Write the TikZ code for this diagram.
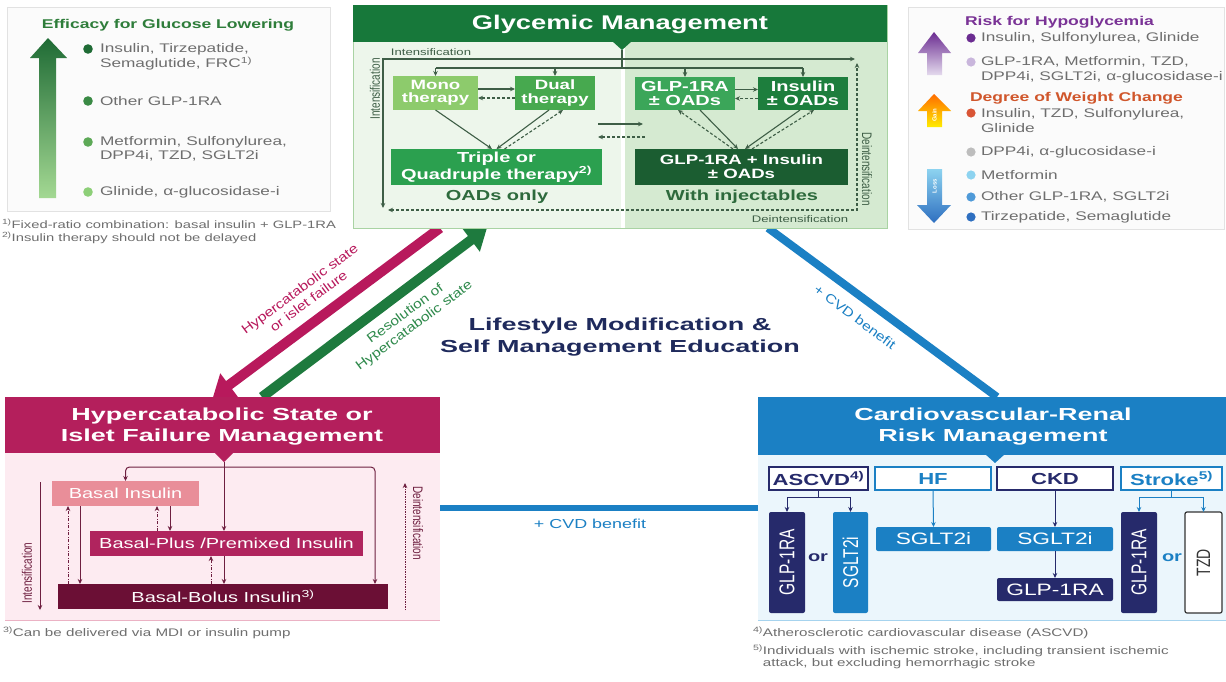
\documentclass[tikz,border=0pt]{standalone}
\usepackage{fontspec}
\usepackage{graphicx}
\setmainfont{Liberation Sans}[FakeStretch=1.38]
\newfontfamily\nf{Liberation Sans}
\newfontfamily\df{Liberation Sans}[FakeStretch=1.2]
\newfontfamily\hf{Liberation Sans}[FakeStretch=1.55]
\usetikzlibrary{arrows.meta,calc}
\newcommand\fsz[2]{\fontsize{#1}{#2}\selectfont}
\newcommand\vt[1]{\scalebox{1}[1.38]{#1}}

\definecolor{gmhead}{HTML}{17783A}
\definecolor{gmleft}{HTML}{EDF6EB}
\definecolor{gmright}{HTML}{D5EAD1}
\definecolor{gmedge}{HTML}{A9D3A3}
\definecolor{cmono}{HTML}{8DCB6C}
\definecolor{cdual}{HTML}{47A94F}
\definecolor{ctriple}{HTML}{2BA04F}
\definecolor{cglp}{HTML}{3BA659}
\definecolor{cins}{HTML}{1D7E3D}
\definecolor{ccombo}{HTML}{1B5D31}
\definecolor{gline}{HTML}{3E5E46}
\definecolor{gtext}{HTML}{2D6A3C}
\definecolor{hyhead}{HTML}{B41F5C}
\definecolor{hybody}{HTML}{FDEBF1}
\definecolor{hyedge}{HTML}{EBB2C4}
\definecolor{cbasal}{HTML}{E98E99}
\definecolor{cplus}{HTML}{B0245E}
\definecolor{cbolus}{HTML}{6B0F35}
\definecolor{hline}{HTML}{6E1F40}
\definecolor{cvhead}{HTML}{1B80C4}
\definecolor{cvbody}{HTML}{EBF6FC}
\definecolor{cvedge}{HTML}{A6D3EE}
\definecolor{navy}{HTML}{262A6B}
\definecolor{lifenavy}{HTML}{1F2A5C}
\definecolor{greytext}{HTML}{6E6E6E}
\definecolor{legedge}{HTML}{E2E2E2}
\definecolor{legfill}{HTML}{FBFBFB}
\definecolor{crim}{HTML}{B8195C}
\definecolor{dgreen}{HTML}{1E7A3E}
\definecolor{lgreen}{HTML}{2F8A4C}
\definecolor{efftitle}{HTML}{2E7D3A}
\definecolor{eff1}{HTML}{1F6B35}
\definecolor{eff2}{HTML}{3A8A45}
\definecolor{eff3}{HTML}{5DA957}
\definecolor{eff4}{HTML}{8DCF78}
\definecolor{hypo}{HTML}{7A3396}
\definecolor{hypo1}{HTML}{6B2C91}
\definecolor{hypo2}{HTML}{C9B6DC}
\definecolor{wtitle}{HTML}{D0562B}
\definecolor{w1}{HTML}{D95535}
\definecolor{w2}{HTML}{BDBDBD}
\definecolor{w3}{HTML}{8DD3F0}
\definecolor{w4}{HTML}{4F9AD8}
\definecolor{w5}{HTML}{2E6FC0}
\definecolor{tzdedge}{HTML}{333333}

\begin{document}
\begin{tikzpicture}[x=1pt,y=-1pt,>={Stealth[length=5pt,width=4.5pt]},
  every node/.style={inner sep=0pt,outer sep=0pt},
  fbox/.style={rectangle,align=center,text=white},
  glink/.style={draw=gline,line width=1.1pt},
  glinkd/.style={glink,dash pattern=on 3pt off 2pt},
  hlink/.style={draw=hline,line width=1pt},
  hlinkdd/.style={hlink,dash pattern=on 3pt off 1.5pt on 1pt off 1.5pt},
  hlinkdot/.style={hlink,dash pattern=on 1.2pt off 1.3pt},
  cat/.style={draw,fill=white,line width=1.1pt,minimum height=23pt,font=\bfseries\fsz{16}{18}},
  med/.style={rectangle,rounded corners=2pt,text=white,font=\fsz{16.5}{18}},
  vmed/.style={med,rotate=90,minimum width=101pt,font=\nf\fsz{15.5}{17}},
  legtxt/.style={anchor=west,align=left,text=greytext,font=\fsz{12.5}{14.5}},
  smalllbl/.style={font=\fsz{9.5}{10},text=gline},
  vlbl/.style={font=\nf\fsz{10}{11}},
]
\fill[white] (0,0) rectangle (1226,681);
\useasboundingbox (0,0) rectangle (1226,681);

% ---------- links between the three management panels ----------
\coordinate (gmA) at (440,228);  \coordinate (hyA) at (213,397);
\coordinate (hyB) at (262,397);  \coordinate (gmB) at (487,228);
\coordinate (gmC) at (768,228);  \coordinate (cvA) at (997,397);
\coordinate (hyC) at (440,508);  \coordinate (cvB) at (758,508);
\draw[line width=8pt,cvhead] (gmC) -- (cvA);
\draw[line width=6pt,cvhead] (hyC) -- (cvB);
\draw[line width=10pt,crim,-{Triangle[length=20pt,width=28pt]}] (gmA) -- (hyA);
\draw[line width=10pt,dgreen,-{Triangle[length=20pt,width=28pt]}] (hyB) -- (gmB);

\node[rotate=36.6,align=center,text=crim,font=\df\fsz{13}{15}] (lblHyp) at (304,295) {Hypercatabolic state\\or islet failure};
\node[rotate=36.6,align=center,text=lgreen,font=\df\fsz{13}{15}] (lblRes) at (410,320) {Resolution of\\Hypercatabolic state};
\node[rotate=-36.4,text=cvhead,font=\df\fsz{13}{15}] (lblCvdA) at (855,317) {+ CVD benefit};
\node[text=cvhead,font=\fsz{13}{15}] (lblCvdB) at (590,524) {+ CVD benefit};
\node[align=center,text=lifenavy,font=\hf\bfseries\fsz{17.4}{22}] (life) at (620,337) {Lifestyle Modification \&\\Self Management Education};

% ---------- efficacy legend ----------
\draw[legedge,fill=legfill] (7,7) rectangle (330,211);
\shade[top color=eff1,bottom color=eff4!80!white] (39,198) -- (39,58) -- (30,58) -- (48,38) -- (67,58) -- (56,58) -- (56,198) -- cycle;
\node[text=efftitle,font=\bfseries\fsz{12.7}{14}] (effT) at (168,25) {Efficacy for Glucose Lowering};
\fill[eff1] (88,49) circle (4.8);
\fill[eff2] (88,101) circle (4.8);
\fill[eff3] (88,142) circle (4.8);
\fill[eff4] (88,192) circle (4.8);
\node[legtxt] (eff1t) at (100,57) {Insulin, Tirzepatide,\\Semaglutide, FRC\textsuperscript{1)}};
\node[legtxt] (eff2t) at (100,101) {Other GLP-1RA};
\node[legtxt] (eff3t) at (100,149) {Metformin, Sulfonylurea,\\DPP4i, TZD, SGLT2i};
\node[legtxt] (eff4t) at (100,192) {Glinide, α-glucosidase-i};
\node[anchor=west,align=left,text=greytext,font=\fsz{10.7}{13}] (fn12) at (2,231) {\textsuperscript{1)}Fixed-ratio combination: basal insulin + GLP-1RA\\\textsuperscript{2)}Insulin therapy should not be delayed};

% ---------- hypoglycaemia / weight legend ----------
\draw[legedge,fill=legfill] (908,7) rectangle (1224,229);
\shade[top color=hypo1,bottom color=hypo2!50!white] (927,75) -- (927,53) -- (918,53) -- (934,32) -- (951,53) -- (942,53) -- (942,75) -- cycle;
\shade[top color=orange!85!red,bottom color=yellow!85!orange] (927,127) -- (927,111) -- (918,111) -- (934,94) -- (951,111) -- (942,111) -- (942,127) -- cycle;
\shade[top color=w3,bottom color=w5] (927,169) -- (927,205) -- (917,205) -- (934,223) -- (951,205) -- (942,205) -- (942,169) -- cycle;
\node[rotate=90,text=white,font=\nf\bfseries\fsz{6}{7}] (gain) at (934.5,115) {Gain};
\node[rotate=90,text=white,font=\nf\bfseries\fsz{6}{7}] (loss) at (934.5,186) {Loss};
\node[anchor=west,text=hypo,font=\bfseries\fsz{12.7}{14}] (hypoT) at (965,22) {Risk for Hypoglycemia};
\node[anchor=west,text=wtitle,font=\bfseries\fsz{12.7}{14}] (wT) at (970,98) {Degree of Weight Change};
\fill[hypo1] (971,38) circle (4.6);
\fill[hypo2] (971,62) circle (4.6);
\fill[w1] (971,113) circle (4.6);
\fill[w2] (971,152) circle (4.6);
\fill[w3] (971,175) circle (4.6);
\fill[w4] (971,197) circle (4.6);
\fill[w5] (971,217) circle (4.6);
\node[legtxt] (h1t) at (981,38) {Insulin, Sulfonylurea, Glinide};
\node[legtxt] (h2t) at (981,70) {GLP-1RA, Metformin, TZD,\\DPP4i, SGLT2i, α-glucosidase-i};
\node[legtxt] (w1t) at (981,120.5) {Insulin, TZD, Sulfonylurea,\\Glinide};
\node[legtxt] (w2t) at (981,152) {DPP4i, α-glucosidase-i};
\node[legtxt] (w3t) at (981,175) {Metformin};
\node[legtxt] (w4t) at (981,197) {Other GLP-1RA, SGLT2i};
\node[legtxt] (w5t) at (981,217) {Tirzepatide, Semaglutide};

% ---------- glycemic management ----------
\fill[gmleft] (353,42) rectangle (621,228);
\fill[gmright] (625,42) rectangle (887,228);
\draw[gmedge,line width=0.8pt] (353,5) rectangle (887,228);
\fill[gmhead] (353,5) rectangle (887,42);
\fill[gmhead] (612,41) -- (632,41) -- (622,50) -- cycle;
\node[text=white,font=\bfseries\fsz{19.8}{22}] (gmT) at (620,24) {Glycemic Management};

\node[fbox,fill=cmono,minimum width=85pt,minimum height=34pt,font=\bfseries\fsz{13.5}{13.5}] (mono) at (435.5,93) {Mono\\therapy};
\node[fbox,fill=cdual,minimum width=80pt,minimum height=34pt,font=\bfseries\fsz{13.5}{13.5}] (dual) at (555,93) {Dual\\therapy};
\node[fbox,fill=ctriple,minimum width=211pt,minimum height=36pt,font=\bfseries\fsz{14.5}{14.5}] (triple) at (496.5,167) {Triple or\\Quadruple therapy\textsuperscript{2)}};
\node[fbox,fill=cglp,minimum width=100pt,minimum height=33pt,font=\bfseries\fsz{14.5}{13.5}] (glp) at (685,93.5) {GLP-1RA\\± OADs};
\node[fbox,fill=cins,minimum width=90pt,minimum height=33pt,font=\bfseries\fsz{14.5}{13.5}] (ins) at (803,93.5) {Insulin\\± OADs};
\node[fbox,fill=ccombo,minimum width=213pt,minimum height=36pt,font=\bfseries\fsz{13.5}{14}] (combo) at (741.5,167) {GLP-1RA + Insulin\\± OADs};
\node[text=gtext,font=\bfseries\fsz{14.5}{16}] (oads) at (497,197) {OADs only};
\node[text=gtext,font=\bfseries\fsz{14.5}{16}] (inj) at (742,197) {With injectables};

\coordinate (gmTip) at (622,50);
\coordinate (gBar) at (622,68);
\draw[glink] (gmTip) -- (gBar);
\draw[glink] (mono.north |- gBar) -- (ins.north |- gBar);
\foreach \b in {mono,dual,glp,ins} \draw[glink,->] (\b.north |- gBar) -- (\b.north);

\coordinate (loopBL) at (383,208); \coordinate (loopTL) at (383,59); \coordinate (loopTR) at (855,59);
\coordinate (dBL) at (388,210); \coordinate (dBR) at (857,210); \coordinate (dTR) at (857,63);
\draw[glink,<->] (loopBL) -- (loopTL) -- (loopTR);
\draw[glinkd,<->] (dBL) -- (dBR) -- (dTR);

\draw[glink,->] ([yshift=4pt]mono.east) -- ([yshift=4pt]dual.west);
\draw[glinkd,->] ([yshift=-5pt]dual.west) -- ([yshift=-5pt]mono.east);
\draw[glink,->] (mono.south) -- ([xshift=-4.5pt]triple.north);
\draw[glink,->] ([xshift=-6pt]dual.south) -- (triple.north);
\draw[glinkd,->] ([xshift=8pt]triple.north) -- ([xshift=8pt]dual.south);

\coordinate (oadOutS) at (598,124); \coordinate (injInS) at (643,124);
\coordinate (injOutD) at (645,137); \coordinate (oadInD) at (598,137);
\draw[glink,->] (oadOutS) -- (injInS);
\draw[glinkd,->] (injOutD) -- (oadInD);

\draw[glink,->] ([yshift=4pt]glp.east) -- ([yshift=4pt]ins.west);
\draw[glinkd,->] ([yshift=-5pt]ins.west) -- ([yshift=-5pt]glp.east);
\draw[glink,->] ([xshift=15pt]glp.south) -- ([xshift=-3.5pt]combo.north);
\draw[glinkd,->] ([xshift=-8.5pt]combo.north) -- ([xshift=-7pt]glp.south);
\draw[glink,->] ([xshift=-3pt]ins.south) -- ([xshift=3.5pt]combo.north);
\draw[glinkd,->] ([xshift=10.5pt]combo.north) -- ([xshift=11pt]ins.south);

\node[smalllbl] (gInt) at (431,52) {Intensification};
\node[smalllbl] (gDe) at (800,219) {Deintensification};
\node[vlbl,rotate=90,text=gline] (gIntV) at (375,89) {\vt{Intensification}};
\node[vlbl,rotate=-90,text=gline] (gDeV) at (867,169) {\vt{Deintensification}};

% ---------- hypercatabolic state management ----------
\fill[hybody] (5,453) rectangle (440,620);
\draw[hyedge,line width=1pt] (5,620) -- (440,620);
\fill[hyhead] (5,397) rectangle (440,453);
\fill[hyhead] (214,452) -- (234,452) -- (224,462) -- cycle;
\node[align=center,text=white,font=\hf\bfseries\fsz{17.4}{21}] (hyT) at (222,427) {Hypercatabolic State or\\Islet Failure Management};

\node[fbox,fill=cbasal,minimum width=147pt,minimum height=25pt,font=\fsz{14.5}{16}] (basal) at (125.5,493.5) {Basal Insulin};
\node[fbox,fill=cplus,minimum width=273pt,minimum height=25pt,font=\fsz{14.5}{16}] (plus) at (226.5,543.5) {Basal-Plus /Premixed Insulin};
\node[fbox,fill=cbolus,minimum width=330pt,minimum height=25pt,font=\fsz{14.5}{16}] (bolus) at (223,596.5) {Basal-Bolus Insulin\textsuperscript{3)}};

\coordinate (hyTip) at (224,462);
\coordinate (hBar) at (224,467);
\draw[hlink,->] (hyTip) -- (hyTip |- plus.north);
\draw[hlink,->,rounded corners=4pt] (hBar) -| (basal.north);
\draw[hlink,->,rounded corners=4pt] (hBar) -| ([xshift=152pt]bolus.north);

\draw[hlinkdd,->] ([xshift=-155pt]bolus.north) -- ([xshift=-57.5pt]basal.south);
\draw[hlink,->] ([xshift=-45.5pt]basal.south) -- ([xshift=-143pt]bolus.north);
\draw[hlinkdd,->] ([xshift=-69.5pt]plus.north) -- ([xshift=31.5pt]basal.south);
\draw[hlink,->] ([xshift=44.5pt]basal.south) -- ([xshift=-56.5pt]plus.north);
\draw[hlinkdd,->] ([xshift=-12pt]bolus.north) -- ([xshift=-15.5pt]plus.south);
\draw[hlink,->] ([xshift=-2.5pt]plus.south) -- ([xshift=1pt]bolus.north);

\coordinate (hiTop) at (40,482); \coordinate (hiBot) at (40,610);
\coordinate (hdBot) at (405,610); \coordinate (hdTop) at (405,483);
\draw[hlink,->] (hiTop) -- (hiBot);
\draw[hlinkdot,->] (hdBot) -- (hdTop);
\node[vlbl,rotate=90,text=hline] (hInt) at (27,573) {\vt{Intensification}};
\node[vlbl,rotate=-90,text=hline] (hDe) at (418,523) {\vt{Deintensification}};
\node[anchor=west,text=greytext,font=\fsz{11}{12}] (fn3) at (3,633) {\textsuperscript{3)}Can be delivered via MDI or insulin pump};

% ---------- cardiovascular-renal risk management ----------
\fill[cvbody] (758,455) rectangle (1226,620);
\draw[cvedge,line width=1pt] (758,620) -- (1226,620);
\fill[cvhead] (758,397) rectangle (1226,455);
\fill[cvhead] (985,454) -- (1005,454) -- (995,463) -- cycle;
\node[align=center,text=white,font=\hf\bfseries\fsz{17.4}{21}] (cvT) at (993,427) {Cardiovascular-Renal\\Risk Management};

\node[cat,draw=navy,text=navy,minimum width=99pt] (ascvd) at (818.5,478.5) {ASCVD\textsuperscript{4)}};
\node[cat,draw=cvhead,text=cvhead,minimum width=116pt] (hf) at (933,478.5) {HF};
\node[cat,draw=navy,text=navy,minimum width=116pt] (ckd) at (1055,478.5) {CKD};
\node[cat,draw=cvhead,text=cvhead,minimum width=101pt] (stroke) at (1171.5,478.5) {Stroke\textsuperscript{5)}};

\node[vmed,fill=navy,minimum height=36pt] (glpA) at (787,562.5) {\vt{GLP-1RA}};
\node[vmed,fill=cvhead,minimum height=35pt] (sgltA) at (850.5,562.5) {\vt{SGLT2i}};
\node[med,fill=cvhead,minimum width=115pt,minimum height=24pt] (sgltH) at (933.5,539) {SGLT2i};
\node[med,fill=cvhead,minimum width=116pt,minimum height=24pt] (sgltK) at (1055,539) {SGLT2i};
\node[med,fill=navy,minimum width=116pt,minimum height=23pt] (glpK) at (1055,589.5) {GLP-1RA};
\node[vmed,fill=navy,minimum height=36pt] (glpS) at (1139,562.5) {\vt{GLP-1RA}};
\node[vmed,fill=white,draw=tzdedge,line width=1.2pt,text=tzdedge,minimum height=37pt,font=\nf\fsz{14}{16}] (tzd) at (1203.5,562.5) {\vt{TZD}};
\node[text=navy,font=\bfseries\fsz{14.5}{16}] (or1) at (818,558) {or};
\node[text=cvhead,font=\bfseries\fsz{14.5}{16}] (or2) at (1172,558) {or};

\draw[draw=navy,line width=1pt] (ascvd.south) -- ++(0,7) coordinate (aJ);
\draw[draw=navy,line width=1pt,->] (aJ) -| (glpA.east);
\draw[draw=navy,line width=1pt,->] (aJ) -| (sgltA.east);
\draw[draw=cvhead,line width=1pt,->] (hf.south) -- (sgltH.north);
\draw[draw=navy,line width=1pt,->] (ckd.south) -- (sgltK.north);
\draw[draw=navy,line width=1pt,->] (sgltK.south) -- (glpK.north);
\draw[draw=cvhead,line width=1pt] (stroke.south) -- ++(0,7) coordinate (sJ);
\draw[draw=cvhead,line width=1pt,->] (sJ) -| (glpS.east);
\draw[draw=cvhead,line width=1pt,->] (sJ) -| (tzd.east);

\node[anchor=west,text=greytext,font=\fsz{11}{12}] (fn4) at (753,633) {\textsuperscript{4)}Atherosclerotic cardiovascular disease (ASCVD)};
\node[anchor=west,align=left,text=greytext,font=\fsz{11}{12}] (fn5) at (753,657) {\textsuperscript{5)}Individuals with ischemic stroke, including transient ischemic\\\hphantom{\textsuperscript{5)}}attack, but excluding hemorrhagic stroke};
\end{tikzpicture}
\end{document}
